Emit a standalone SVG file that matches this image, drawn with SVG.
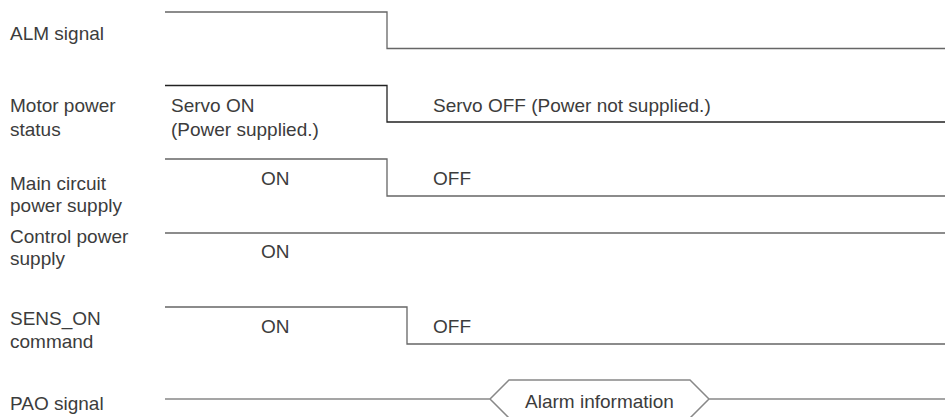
<svg xmlns="http://www.w3.org/2000/svg" width="945" height="417" viewBox="0 0 945 417">
<style>
text{font-family:"Liberation Sans",Arial,sans-serif;font-size:19px;fill:#3c3c3c}
.w{fill:none;stroke:#666;stroke-width:1.3}
.d{stroke:#222}
.p{stroke:#888;stroke-width:1.5}
</style>
<rect width="945" height="417" fill="#fff"/>
<g id="labels">
<text x="10" y="40">ALM signal</text>
<text x="10" y="112">Motor power</text>
<text x="10" y="136">status</text>
<text x="10" y="190">Main circuit</text>
<text x="10" y="212">power supply</text>
<text x="10" y="243">Control power</text>
<text x="10" y="265">supply</text>
<text x="10" y="325">SENS_ON</text>
<text x="10" y="348">command</text>
<text x="10" y="410">PAO signal</text>
</g>
<g id="connectors">
<path id="alm" class="w" d="M165,12 H387 V48.5 H945"/>
<path id="motor" class="w d" d="M165,85.5 H387 V122 H945"/>
<path id="main" class="w" d="M165,159 H387 V196 H945"/>
<path id="control" class="w" d="M165,233 H945"/>
<path id="sens" class="w" d="M165,307 H407 V344 H945"/>
<path id="pao" class="w p" d="M165,399 H490 L509,380 H690 L709,399 H945 M490,399 L509,418 H690 L709,399"/>
</g>
<g id="states">
<text x="171" y="112">Servo ON</text>
<text x="171" y="136">(Power supplied.)</text>
<text x="433" y="112">Servo OFF (Power not supplied.)</text>
<text x="261" y="185">ON</text>
<text x="433" y="185">OFF</text>
<text x="261" y="258">ON</text>
<text x="261" y="333">ON</text>
<text x="433" y="333">OFF</text>
<text x="599.5" y="408" text-anchor="middle">Alarm information</text>
</g>
</svg>
